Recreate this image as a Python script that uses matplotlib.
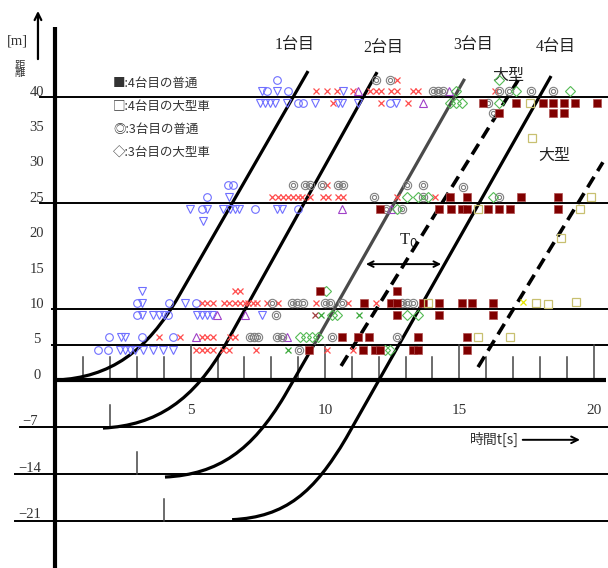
import numpy as np
import matplotlib
matplotlib.use("Agg")
import matplotlib.pyplot as plt
from matplotlib.path import Path
from matplotlib.patches import PathPatch

# ---------------- data ----------------
# trajectories: start point, two bezier handles, join point, end of straight part (t [s], d [m])
car1_t = [0.0, 2.0, 3.36, 4.56, 9.37]
car1_d = [0.0, 0.4, 3.98, 11.91, 43.7]
car2_t = [1.73, 3.73, 5.11, 6.31, 11.94]
car2_d = [-7.15, -6.75, -3.03, 5.15, 43.55]
car3_t = [4.04, 6.04, 7.29, 8.49, 9.59]
car3_d = [-14.45, -14.05, -10.43, -2.38, 5.0]
car3_upper_t = [9.59, 15.2]
car3_upper_d = [5.0, 42.6]
car4_t = [6.54, 8.54, 9.59, 10.79, 18.42]
car4_d = [-20.8, -20.4, -16.74, -8.62, 43.0]
large1_t = [10.6, 17.19]
large1_d = [2.0, 42.4]
large2_t = [15.70, 20.35]
large2_d = [1.84, 30.8]

# observation markers (t, d)
circle_t = [7.84, 8.62, 8.21, 8.99, 9.18, 12.42, 6.39, 6.57, 5.61, 5.42, 7.39, 8.99,
            3.00, 4.19, 5.20, 3.00, 4.15, 1.96, 3.18, 4.34, 1.55, 1.92]
circle_d = [40.9, 40.9, 42.5, 39.2, 39.2, 39.2, 27.6, 27.6, 25.9, 24.2, 24.2, 24.2,
            10.9, 10.9, 10.9, 9.2, 9.2, 6.1, 6.1, 6.1, 4.2, 4.2]
tri_down_t = [7.65, 8.21, 10.67, 7.58, 7.77, 7.95, 8.14, 8.58, 9.63, 10.48, 10.63, 11.23, 12.64,
              6.42, 4.97, 5.61, 6.20, 6.46, 6.65, 6.80, 8.21, 8.40, 5.46,
              3.18, 3.18, 4.79, 3.18, 3.59, 3.82, 4.00, 5.23, 5.42, 5.61, 5.79, 7.65,
              2.40, 2.55, 2.37, 2.55, 2.74, 2.92, 3.22, 3.59, 3.97, 4.34]
tri_down_d = [40.9, 40.9, 40.9, 39.2, 39.2, 39.2, 39.2, 39.2, 39.2, 39.2, 39.2, 39.2, 39.2,
              25.9, 24.2, 24.2, 24.2, 24.2, 24.2, 24.2, 24.2, 24.2, 22.5,
              12.6, 10.9, 10.9, 9.2, 9.2, 9.2, 9.2, 9.2, 9.2, 9.2, 9.2, 9.2,
              6.1, 6.1, 4.2, 4.2, 4.2, 4.2, 4.2, 4.2, 4.2, 4.2]
cross_t = [9.66, 10.07, 10.45, 11.04, 11.68, 11.90, 12.09, 12.46, 12.68, 13.28, 13.46, 16.33, 12.68,
           10.30, 12.09, 13.09,
           8.03, 8.25, 8.44, 8.62, 8.81, 8.99, 9.14, 9.44, 9.93, 10.11, 10.48, 10.67, 12.68, 14.10, 10.07,
           5.42, 5.61, 5.83, 6.24, 6.42, 6.65, 6.83, 7.02, 7.13, 7.32, 7.47, 7.84, 8.25, 9.66, 10.86, 11.90,
           6.65, 6.83,
           3.82, 4.60, 5.42, 5.61, 5.83, 6.46, 6.65,
           5.20, 5.42, 5.61, 5.83, 6.20, 6.42, 7.43, 10.07, 11.04]
cross_d = [40.9, 40.9, 40.9, 40.9, 40.9, 40.9, 40.9, 40.9, 40.9, 40.9, 40.9, 40.9, 42.5,
           39.2, 39.2, 39.2,
           25.9, 25.9, 25.9, 25.9, 25.9, 25.9, 25.9, 25.9, 25.9, 25.9, 25.9, 25.9, 25.9, 25.9, 27.6,
           10.9, 10.9, 10.9, 10.9, 10.9, 10.9, 10.9, 10.9, 10.9, 10.9, 10.9, 10.9, 10.9, 10.9, 10.9, 10.9,
           12.6, 12.6,
           6.1, 6.1, 6.1, 6.1, 6.1, 6.1, 6.1,
           4.2, 4.2, 4.2, 4.2, 4.2, 4.2, 4.2, 4.2, 4.2]
cross_dark_t = [9.63]
cross_dark_d = [9.2]
cross_green_t = [8.62, 9.85, 11.27]
cross_green_d = [4.2, 9.2, 9.2]
cross_yellow_t = [17.37]
cross_yellow_d = [11.1]
tri_up_t = [11.23, 14.62, 13.65, 10.63, 12.46, 5.98, 7.02, 5.20, 8.58]
tri_up_d = [40.9, 40.9, 39.2, 24.2, 24.2, 9.2, 9.2, 6.1, 6.1]
dcircle_t = [11.90, 12.42, 14.02, 14.21, 14.39, 16.48, 16.85, 17.67, 18.49, 16.07, 16.26,
             8.81, 9.25, 9.44, 9.87, 10.48, 10.67, 13.05, 13.65, 15.14, 11.83, 13.65, 16.48, 12.27, 12.87,
             8.03, 8.77, 8.96, 9.18, 10.00, 10.19, 10.63, 12.87, 13.05, 13.28, 8.17,
             7.21, 7.36, 7.50, 8.21, 8.40, 10.26, 12.68, 9.03]
dcircle_d = [42.5, 42.5, 40.9, 40.9, 40.9, 40.9, 40.9, 40.9, 40.9, 39.2, 37.8,
             27.6, 27.6, 27.6, 27.6, 27.6, 27.6, 27.6, 27.6, 27.3, 25.9, 25.9, 25.9, 24.2, 24.2,
             10.9, 10.9, 10.9, 10.9, 10.9, 10.9, 10.9, 10.9, 10.9, 10.9, 9.2,
             6.1, 6.1, 6.1, 6.1, 6.1, 6.1, 6.1, 4.2]
diamond_t = [14.88, 17.11, 19.12, 16.48, 14.66, 14.88, 15.10, 16.48,
             13.05, 13.46, 13.84, 16.26, 12.68,
             10.04, 10.26, 10.45, 13.05, 13.46,
             9.07, 9.29, 9.52, 9.74, 12.23, 12.42]
diamond_d = [40.9, 40.9, 40.9, 42.5, 39.2, 39.2, 39.2, 39.2,
             25.9, 25.9, 25.9, 25.9, 24.2,
             12.6, 9.2, 9.2, 9.2, 9.2,
             6.1, 6.1, 6.1, 6.1, 4.2, 4.2]
square_t = [15.88, 17.11, 18.12, 18.49, 18.90, 19.31, 20.13, 16.48, 18.49, 18.90,
            14.66, 15.29, 17.30, 18.68, 12.05, 14.25, 14.69, 15.10, 15.29, 16.07, 16.48, 16.89, 18.68,
            9.81, 12.68, 11.45, 12.46, 12.68, 13.65, 14.25, 15.10, 15.48, 16.26, 12.68, 14.25, 16.26,
            10.63, 11.23, 11.64, 13.46, 15.29, 9.40, 11.42, 11.86, 12.05, 13.28, 13.46, 15.29]
square_d = [39.2, 39.2, 39.2, 39.2, 39.2, 39.2, 39.2, 37.8, 37.8, 37.8,
            25.9, 25.9, 25.9, 25.9, 24.2, 24.2, 24.2, 24.2, 24.2, 24.2, 24.2, 24.2, 24.2,
            12.6, 12.6, 10.9, 10.9, 10.9, 10.9, 10.9, 10.9, 10.9, 10.9, 9.2, 9.2, 9.2,
            6.1, 6.1, 6.1, 6.1, 6.1, 4.2, 4.2, 4.2, 4.2, 4.2, 4.2, 4.2]
hsquare_t = [17.63, 17.71, 19.91, 15.70, 19.50, 18.79, 13.84, 17.86, 18.31, 19.35, 15.70, 16.89]
hsquare_d = [39.2, 34.2, 25.9, 24.2, 24.2, 20.1, 10.9, 10.9, 10.7, 11.1, 6.1, 6.1]

ytick_vals = [40, 35, 30, 25, 20, 15, 10, 5, 0]
neg_lines = [-7, -14, -21]
pos_lines = [40, 25, 10, 5]
xtick_vals = [5, 10, 15, 20]
car_labels = ["1台目", "2台目", "3台目", "4台目"]
car_label_t = [8.88, 12.16, 15.51, 18.6]
car_label_d = [47.4, 47.0, 47.4, 47.1]
legend_texts = ["■:4台目の普通", "□:4台目の大型車", "◎:3台目の普通", "◇:3台目の大型車"]
legend_d = [42.0, 38.75, 35.5, 32.1]

# ---------------- figure ----------------
K = 6.71 / 7.07


def fwd(d):
    d = np.asarray(d, float)
    return np.where(d < 0, d * K, d)


def inv(u):
    u = np.asarray(u, float)
    return np.where(u < 0, u / K, u)


fig = plt.figure(figsize=(6.08, 5.68), dpi=100)
ax = fig.add_axes([0, 0, 1, 1])
ax.set_yscale('function', functions=(fwd, inv))
ax.set_xlim(-2.104, 20.54)
ax.set_ylim(-28.0, 53.75)
ax.axis('off')

serif = ['Liberation Serif', 'Noto Sans CJK JP']
cjk = ['Noto Sans CJK JP', 'DejaVu Sans']

# horizontal lines
for v in pos_lines:
    x0 = -0.61 if v >= 25 else -0.17
    ax.plot([x0, 20.6], [v, v], color='black', lw=1.4, zorder=2)
for v in neg_lines:
    x0 = -1.36 if v == -7 else -1.54
    ax.plot([x0, 20.6], [v, v], color='black', lw=1.4, zorder=2)
ax.plot([-0.06, 20.45], [0, 0], color='black', lw=3.0, zorder=3, solid_capstyle='butt')

# vertical axis
ax.plot([-0.06, -0.06], [49.9, -28.5], color='black', lw=3.0, zorder=3, solid_capstyle='butt')
ax.annotate('', xy=(-0.69, 52.6), xytext=(-0.69, 45.0),
            arrowprops=dict(arrowstyle='->', color='black', lw=1.6, mutation_scale=12))

# ticks on zero line
for t in range(1, 21):
    top = 5.0 if t % 5 == 0 else 3.25
    ax.plot([t, t], [0, top], color='#444444', lw=1.1, zorder=2)
for t, v in zip([2, 3, 4], neg_lines):
    ax.plot([t, t], [v, v + 3.3], color='#444444', lw=1.1, zorder=2)

# labels
for v in ytick_vals:
    ax.text(-0.73, v + 0.7, str(v), ha='center', va='center', fontsize=10.5,
            family=serif, color='#333333')
for v in neg_lines:
    ax.text(-1.0, v + 0.9, '−' + str(-v), ha='center', va='center', fontsize=10.5,
            family=serif, color='#333333')
for v in xtick_vals:
    ax.text(v, -4.5, str(v), ha='center', va='center', fontsize=11, family=serif, color='#333333')
ax.text(16.33, -8.9, '時間t[s]', ha='center', va='center', fontsize=10, family=cjk, color='#333333')
ax.annotate('', xy=(19.6, -8.9), xytext=(17.26, -8.9),
            arrowprops=dict(arrowstyle='->', color='black', lw=1.4, mutation_scale=12))
ax.text(-1.45, 47.9, '[m]', ha='center', va='center', fontsize=10.5, family=serif, color='#333333')
ax.text(-1.38, 44.0, '距\n離', ha='center', va='center', fontsize=7.5, family=cjk,
        color='#333333', linespacing=0.85)

for lab, t, d in zip(car_labels, car_label_t, car_label_d):
    ax.text(t, d, lab, ha='center', va='center', fontsize=11.5, family=serif, color='#222222')
ax.text(16.82, 43.1, '大型', ha='center', va='center', fontsize=11.5, family=cjk, color='#222222')
ax.text(18.53, 31.8, '大型', ha='center', va='center', fontsize=11.5, family=cjk, color='#222222')
for txt, d in zip(legend_texts, legend_d):
    ax.text(2.1, d, txt, ha='left', va='center', fontsize=9, family=cjk, color='#333333',
            style='italic')


# trajectories (cubic bezier start, then straight)
def trajectory(ts, ds, color):
    verts = list(zip(ts, ds))
    codes = [Path.MOVETO, Path.CURVE4, Path.CURVE4, Path.CURVE4, Path.LINETO]
    patch = PathPatch(Path(verts, codes), facecolor='none', edgecolor=color, lw=2.3,
                      transform=ax.transData, zorder=4, capstyle='butt')
    ax.add_patch(patch)


trajectory(car1_t, car1_d, 'black')
trajectory(car2_t, car2_d, 'black')
trajectory(car3_t, car3_d, 'black')
ax.plot(car3_upper_t, car3_upper_d, color='#4a4a4a', lw=2.3, zorder=4, solid_capstyle='butt')
trajectory(car4_t, car4_d, 'black')
ax.plot(large1_t, large1_d, color='black', lw=2.6, zorder=4, dashes=(3.4, 1.9))
ax.plot(large2_t, large2_d, color='black', lw=2.6, zorder=4, dashes=(3.4, 1.9))

# T0 arrow
ax.annotate('', xy=(11.42, 16.4), xytext=(14.43, 16.4),
            arrowprops=dict(arrowstyle='<->', color='black', lw=1.4, mutation_scale=10))
ax.text(13.1, 19.8, 'T$_0$', ha='center', va='center', fontsize=12, family='Liberation Serif',
        color='#222222')

# markers
ms = 5.5
ax.plot(circle_t, circle_d, ls='none', marker='o', ms=ms, mfc='none', mec='#6f6fff', mew=0.8, zorder=5)
ax.plot(tri_down_t, tri_down_d, ls='none', marker='v', ms=ms, mfc='none', mec='#6f6fff', mew=0.8, zorder=5)
ax.plot(cross_t, cross_d, ls='none', marker='x', ms=5, mec='#ff4d4d', mew=0.9, zorder=5)
ax.plot(cross_dark_t, cross_dark_d, ls='none', marker='x', ms=5, mec='#a04040', mew=0.9, zorder=5)
ax.plot(cross_green_t, cross_green_d, ls='none', marker='x', ms=5, mec='#3aa83a', mew=0.9, zorder=5)
ax.plot(cross_yellow_t, cross_yellow_d, ls='none', marker='x', ms=5, mec='#e6e600', mew=0.9, zorder=5)
ax.plot(tri_up_t, tri_up_d, ls='none', marker='^', ms=ms, mfc='none', mec='#a040c8', mew=0.8, zorder=5)
ax.plot(dcircle_t, dcircle_d, ls='none', marker='o', ms=6, mfc='none', mec='#808080', mew=0.8, zorder=5)
ax.plot(dcircle_t, dcircle_d, ls='none', marker='o', ms=3, mfc='none', mec='#808080', mew=0.8, zorder=5)
ax.plot(diamond_t, diamond_d, ls='none', marker='D', ms=4.6, mfc='none', mec='#55bb55', mew=0.8, zorder=5)
ax.plot(square_t, square_d, ls='none', marker='s', ms=6, mfc='#800000', mec='#b05050', mew=0.5, zorder=5)
ax.plot(hsquare_t, hsquare_d, ls='none', marker='s', ms=6, mfc='none', mec='#c8c070', mew=0.9, zorder=5)

fig.savefig('out.png', dpi=100)
